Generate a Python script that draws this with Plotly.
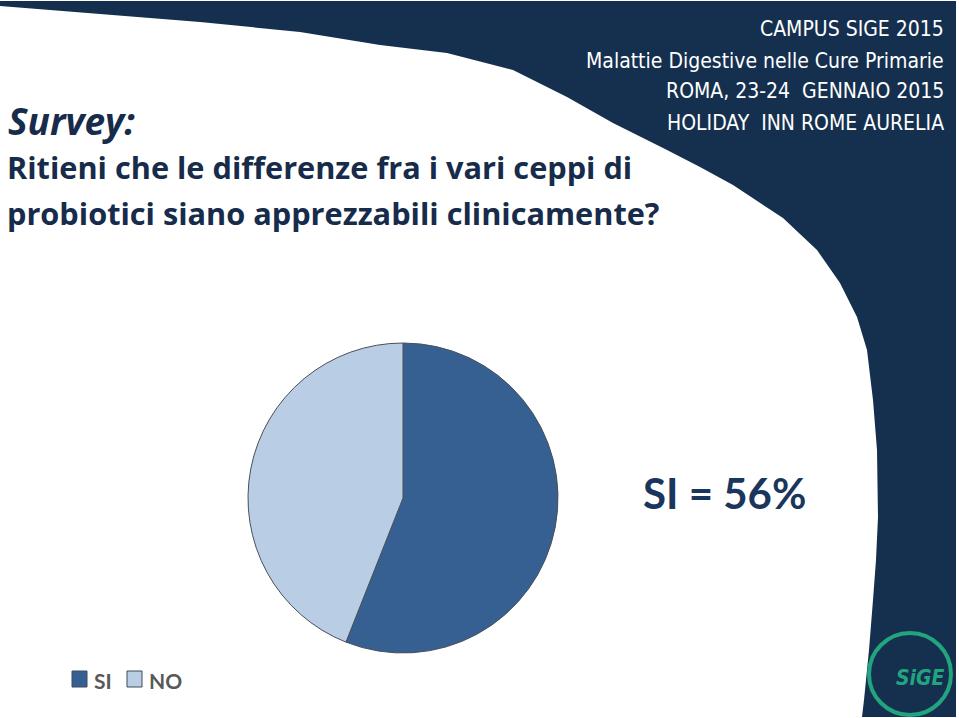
import plotly.graph_objects as go

W, H = 959, 718

labels = ["SI", "NO"]
values = [56, 44]
colors = ["#366092", "#B9CDE5"]

title_lines = ["Ritieni che le differenze fra i vari ceppi di",
               "probiotici siano apprezzabili clinicamente?"]
header_lines = ["CAMPUS SIGE 2015",
                "Malattie Digestive nelle Cure Primarie",
                "ROMA, 23-24  GENNAIO 2015",
                "HOLIDAY  INN ROME AURELIA"]

NAVY = "#15304F"
TXT = "#172B4A"


def px(x, y):
    return x / W, 1 - y / H


# navy background boundary (pixel coords)
boundary = [(0, 6), (100, 14), (200, 22), (300, 32), (380, 45), (447, 53), (513, 70),
            (567, 97), (613, 123), (667, 150), (700, 167), (733, 185), (783, 218),
            (817, 250), (840, 283), (857, 317), (867, 350), (873, 400), (877, 450),
            (878, 517), (876, 560), (873, 600), (869, 650), (864, 700), (862, 717)]
pts = [(0, 1)] + boundary + [(956, 717), (956, 1)]
path = ""
for i, (x, y) in enumerate(pts):
    a, b = px(x, y)
    path += ("M" if i == 0 else "L") + f"{a:.5f},{b:.5f} "
path += "Z"

fig = go.Figure()

cx, cy, r = 403, 498, 155
fig.add_trace(go.Pie(
    labels=labels, values=values, sort=False, direction="clockwise", rotation=0,
    marker=dict(colors=colors, line=dict(color="#4a4f5a", width=1)),
    textinfo="none", hoverinfo="label+percent", showlegend=False,
    domain=dict(x=[(cx - r) / W, (cx + r) / W], y=[1 - (cy + r) / H, 1 - (cy - r) / H]),
))

shapes = [dict(type="path", path=path, xref="paper", yref="paper",
               fillcolor=NAVY, line=dict(width=0), layer="below")]

annotations = []
# header text
header_y = [29, 61, 91, 123]
for t, y in zip(header_lines, header_y):
    a, b = px(946, y)
    annotations.append(dict(text=t, x=a, y=b, xref="paper", yref="paper",
                            xanchor="right", yanchor="middle", showarrow=False,
                            font=dict(family="DejaVu Sans Condensed", size=21, color="white")))

# title
a, b = px(6, 120)
annotations.append(dict(text="<i><b>Survey:</b></i>", x=a, y=b, xref="paper", yref="paper",
                        xanchor="left", yanchor="middle", showarrow=False,
                        font=dict(family="Open Sans", size=37, color=TXT)))
for t, y in zip(title_lines, [167, 213]):
    a, b = px(5, y)
    annotations.append(dict(text=f"<b>{t}</b>", x=a, y=b, xref="paper", yref="paper",
                            xanchor="left", yanchor="middle", showarrow=False,
                            font=dict(family="Open Sans", size=30.7, color=TXT)))

# SI = 56%
a, b = px(724, 493)
annotations.append(dict(text=f"<b>{labels[0]} = {values[0]}%</b>", x=a, y=b, xref="paper", yref="paper",
                        xanchor="center", yanchor="middle", showarrow=False,
                        font=dict(family="Lato", size=42, color="#1B365D")))

# custom legend
leg_x = [72, 127]
for lab, col, lx in zip(labels, colors, leg_x):
    x0, y0 = px(lx, 671)
    x1, y1 = px(lx + 15, 687)
    shapes.append(dict(type="rect", xref="paper", yref="paper", x0=x0, y0=y1, x1=x1, y1=y0,
                       fillcolor=col, line=dict(color="#3d4a5c", width=1)))
    a, b = px(lx + 20, 680)
    annotations.append(dict(text=f"<b>{lab}</b>", x=a, y=b, xref="paper", yref="paper",
                            xanchor="left", yanchor="middle", showarrow=False,
                            font=dict(family="Lato", size=21, color="#595959")))

# SIGE logo
lcx, lcy, lr = 910, 674, 41
x0, y0 = px(lcx - lr, lcy - lr)
x1, y1 = px(lcx + lr, lcy + lr)
shapes.append(dict(type="circle", xref="paper", yref="paper", x0=x0, y0=y1, x1=x1, y1=y0,
                   line=dict(color="#22A47F", width=4)))
a, b = px(920, 678)
annotations.append(dict(text="<b><i>SiGE</i></b>", x=a, y=b, xref="paper", yref="paper",
                        xanchor="center", yanchor="middle", showarrow=False,
                        font=dict(family="DejaVu Sans Condensed", size=21, color="#22A47F")))

fig.update_layout(
    width=W, height=H, margin=dict(l=0, r=0, t=0, b=0),
    paper_bgcolor="white", plot_bgcolor="white",
    shapes=shapes, annotations=annotations,
)

fig.write_html("out.html", config={"displayModeBar": False},
               post_script="document.body.style.margin='0';document.body.style.overflow='hidden';")
